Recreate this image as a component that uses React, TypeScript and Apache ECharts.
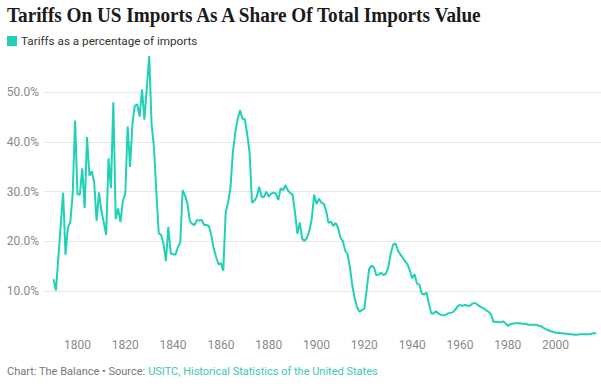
import React, { useEffect, useRef } from "react";
import * as echarts from "echarts";

const START_YEAR = 1790;

// Tariffs as a percentage of total imports value, one value per year from 1790
const tariffShare: number[] = [
  // 1790-1799
  12.4, 10.1, 16.7, 23.3, 29.8, 17.3, 22.8, 23.9, 29.5, 44.3,
  // 1800-1809
  29.5, 29.4, 34.7, 26.7, 41.0, 33.2, 34.1, 31.9, 24.1, 29.8,
  // 1810-1819
  26.2, 23.8, 21.3, 36.7, 30.7, 48.0, 24.5, 26.6, 23.9, 28.2,
  // 1820-1829
  29.6, 43.1, 35.0, 43.7, 47.3, 47.6, 45.1, 50.6, 44.5, 50.8,
  // 1830-1839
  57.3, 43.6, 38.9, 30.0, 21.6, 21.3, 19.5, 16.0, 22.9, 17.6,
  // 1840-1849
  17.4, 17.3, 18.8, 19.8, 30.3, 29.2, 27.6, 24.1, 23.5, 23.3,
  // 1850-1859
  24.3, 24.2, 24.3, 23.3, 23.3, 23.1, 21.2, 18.6, 16.8, 15.4,
  // 1860-1869
  15.6, 14.1, 25.8, 27.8, 30.8, 37.9, 41.9, 44.6, 46.4, 44.7,
  // 1870-1879
  44.6, 41.6, 37.9, 27.8, 28.2, 29.0, 31.0, 29.0, 28.9, 30.0,
  // 1880-1889
  29.0, 29.6, 29.8, 29.6, 28.3, 30.7, 30.3, 31.3, 30.3, 29.7,
  // 1890-1899
  29.4, 25.8, 21.5, 23.8, 20.5, 20.1, 20.7, 22.1, 24.5, 29.4,
  // 1900-1909
  27.5, 28.6, 27.8, 27.6, 26.2, 23.7, 24.0, 23.1, 23.7, 22.8,
  // 1910-1919
  20.7, 20.1, 18.1, 17.4, 14.7, 11.0, 8.5, 6.7, 5.8, 6.2,
  // 1920-1929
  6.4, 10.4, 14.4, 15.1, 14.8, 13.2, 13.3, 13.7, 13.2, 13.5,
  // 1930-1939
  14.7, 17.4, 19.3, 19.6, 18.2, 17.4, 16.8, 16.0, 15.4, 14.2,
  // 1940-1949
  12.6, 13.4, 11.5, 11.3, 9.5, 9.3, 9.7, 7.5, 5.5, 5.5,
  // 1950-1959
  5.9, 5.5, 5.2, 5.1, 5.2, 5.5, 5.6, 5.7, 6.2, 6.9,
  // 1960-1969
  7.2, 7.0, 7.2, 7.1, 7.0, 7.4, 7.6, 7.4, 7.0, 6.7,
  // 1970-1979
  6.5, 6.1, 5.8, 5.3, 3.8, 3.8, 3.7, 3.7, 3.9, 3.5,
  // 1980-1989
  3.0, 3.3, 3.4, 3.5, 3.5, 3.5, 3.4, 3.4, 3.3, 3.2,
  // 1990-1999
  3.2, 3.2, 3.2, 3.0, 2.9, 2.6, 2.3, 2.1, 1.9, 1.8,
  // 2000-2009
  1.6, 1.6, 1.5, 1.5, 1.4, 1.4, 1.3, 1.3, 1.2, 1.2,
  // 2010-2017
  1.3, 1.3, 1.3, 1.3, 1.3, 1.4, 1.5, 1.5,
];

const xTickLabels = [1800, 1820, 1840, 1860, 1880, 1900, 1920, 1940, 1960, 1980, 2000];

const TITLE = "Tariffs On US Imports As A Share Of Total Imports Value";
const SERIES_NAME = "Tariffs as a percentage of imports";
const FOOTER_PREFIX = "Chart: The Balance • Source: ";
const FOOTER_SOURCE = "USITC, Historical Statistics of the United States";

const TEAL = "#1fd2b5";

export default function App() {
  const ref = useRef<HTMLDivElement>(null);

  useEffect(() => {
    if (!ref.current) return;
    const chart = echarts.init(ref.current, null, { renderer: "svg" });
    const data = tariffShare.map((v, i) => [START_YEAR + i, v]);

    const titleFont = 'bold 21px "Liberation Serif"';
    let titleScale = 0.82;
    try {
      const ctx = document.createElement("canvas").getContext("2d");
      if (ctx) {
        ctx.font = titleFont;
        const w = ctx.measureText(TITLE).width;
        if (w > 0) titleScale = 478 / w;
      }
    } catch (e) {
      /* ignore */
    }

    chart.setOption({
      animation: false,
      grid: { left: 44, right: 0, top: 52.6, bottom: 46.3, containLabel: false },
      legend: {
        left: 7,
        top: 35,
        padding: 0,
        itemWidth: 10,
        itemHeight: 10,
        itemGap: 10,
        data: [{ name: SERIES_NAME, icon: "rect" }],
        textStyle: { fontSize: 11.7, color: "#333333", fontFamily: "Roboto", padding: [0, 0, 0, -1] },
      },
      xAxis: {
        type: "value",
        min: 1786,
        max: 2019,
        splitLine: { show: false },
        axisLine: { show: false },
        axisTick: { show: false },
        axisLabel: {
          customValues: xTickLabels,
          formatter: (v: number) => String(v),
          color: "#8a8a8a",
          fontSize: 12,
          fontFamily: "Roboto",
          margin: -2,
        },
      },
      yAxis: {
        type: "value",
        min: 0,
        max: 58,
        interval: 10,
        axisLine: { show: false },
        axisTick: { show: false },
        axisLabel: {
          formatter: (v: number) => v.toFixed(1) + "%",
          showMinLabel: false,
          showMaxLabel: false,
          color: "#8a8a8a",
          fontSize: 12,
          fontFamily: "Roboto",
          margin: 5,
        },
        splitLine: {
          showMinLine: false,
          showMaxLine: false,
          lineStyle: { color: "#e6e6e6", width: 1 },
        },
      },
      series: [
        {
          type: "line",
          name: SERIES_NAME,
          data,
          symbol: "none",
          showSymbol: false,
          lineStyle: { color: TEAL, width: 2 },
          itemStyle: { color: TEAL },
        },
      ],
      graphic: [
        {
          type: "text",
          x: 7,
          y: 4,
          scaleX: titleScale,
          style: { text: TITLE, font: titleFont, fill: "#1a1a1a" },
        },
        {
          type: "text",
          x: 7,
          y: 366,
          style: {
            text: "{a|" + FOOTER_PREFIX + "}{b|" + FOOTER_SOURCE + "}",
            font: "11px Roboto",
            rich: {
              a: { fill: "#777777", fontSize: 11, fontFamily: "Roboto" },
              b: { fill: "#3cc8b0", fontSize: 11, fontFamily: "Roboto" },
            },
          },
        },
      ],
    });

    return () => chart.dispose();
  }, []);

  return (
    <div
      ref={ref}
      style={{ position: "fixed", left: 0, top: 0, width: 601, height: 387, background: "#ffffff" }}
    />
  );
}
